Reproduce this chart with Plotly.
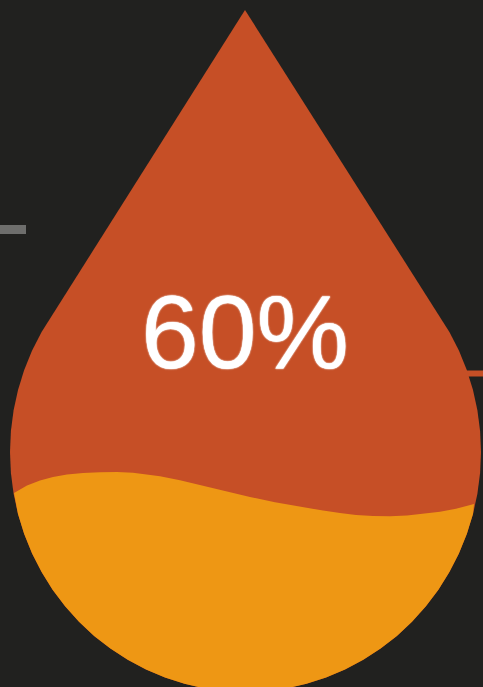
import plotly.graph_objects as go

# Outlines (pixel-like units, y pointing down)
drop_x = [245, 449.4, 458.9, 466.8, 473, 477.4, 480.1, 481, 480.1, 477.4, 473, 466.8, 458.9, 449.4, 438.4, 425.9, 412, 396.9, 380.6, 363.3, 345, 326, 306.5, 286.4, 266, 245.5,
          225, 204.6, 184.5, 165, 146, 127.7, 110.4, 94.1, 79, 65.1, 52.6, 41.6, 32.1, 24.2, 18, 13.6, 10.9, 10, 10.9, 13.6, 18, 24.2, 32.1, 41.6, 245]
drop_y = [10, 332, 350.6, 369.9, 389.9, 410.3, 431.1, 452, 472.9, 493.7, 514.1, 534.1, 553.4, 572, 589.7, 606.3, 621.7, 635.9, 648.6, 659.8, 669.5, 677.5, 683.8, 688.4, 691.1, 692,
          691.1, 688.4, 683.8, 677.5, 669.5, 659.8, 648.6, 635.9, 621.7, 606.3, 589.7, 572, 553.4, 534.1, 514.1, 493.7, 472.9, 452, 431.1, 410.3, 389.9, 369.9, 350.6, 332, 10]

fill_x = [14, 27, 40, 53, 67, 83, 100, 117, 133, 147, 160, 180, 200, 225, 250, 275, 300, 323, 340, 356, 373, 390, 407, 423, 440, 456, 474,
          473, 466.8, 458.9, 449.4, 438.4, 425.9, 412, 396.9, 380.6, 363.3, 345, 326, 306.5, 286.4, 266, 245.5,
          225, 204.6, 184.5, 165, 146, 127.7, 110.4, 94.1, 79, 65.1, 52.6, 41.6, 32.1, 24.2, 18, 14]
fill_y = [493, 485.5, 480.5, 477, 474.6, 473, 472.2, 472.1, 472.8, 474.2, 476.2, 480.2, 485, 491, 497, 502.2, 506.8, 510.6, 513, 514.9, 516, 516.2, 515.5, 514, 511.8, 508.8, 504,
          514.1, 534.1, 553.4, 572, 589.7, 606.3, 621.7, 635.9, 648.6, 659.8, 669.5, 677.5, 683.8, 688.4, 691.1, 692,
          691.1, 688.4, 683.8, 677.5, 669.5, 659.8, 648.6, 635.9, 621.7, 606.3, 589.7, 572, 553.4, 534.1, 514.1, 493]

grey_x = [0, 26]
grey_y = [229.5, 229.5]
tick_x = [465, 483]
tick_y = [373.5, 373.5]

label = "60%"
label_x = [245]
label_y = [342]

BG = "#21211f"
RED = "#c64f26"
AMBER = "#ee9714"

fig = go.Figure()
fig.add_trace(go.Scatter(x=grey_x, y=grey_y, mode="lines", line=dict(color="#6e6e6c", width=9)))
fig.add_trace(go.Scatter(x=tick_x, y=tick_y, mode="lines", line=dict(color=RED, width=6)))
fig.add_trace(go.Scatter(x=drop_x, y=drop_y, mode="lines", fill="toself", fillcolor=RED, line=dict(width=0, color=RED)))
fig.add_trace(go.Scatter(x=fill_x, y=fill_y, mode="lines", fill="toself", fillcolor=AMBER, line=dict(width=0, color=AMBER)))
fig.add_trace(go.Scatter(x=label_x, y=label_y, mode="text", text=[label], textposition="middle center",
                         textfont=dict(family="Liberation Sans", size=104, color="white",
                                       shadow="0 0 1.5px white, 0 0 1.5px white")))

fig.update_layout(
    width=483, height=687, margin=dict(l=0, r=0, t=0, b=0),
    paper_bgcolor=BG, plot_bgcolor=BG, showlegend=False,
    xaxis=dict(range=[0, 483], visible=False, fixedrange=True),
    yaxis=dict(range=[687, 0], visible=False, fixedrange=True),
)
fig.write_html("out.html", config={"displayModeBar": False},
               post_script="document.body.style.margin='0';document.body.style.background='#21211f';document.body.style.overflow='hidden';")
